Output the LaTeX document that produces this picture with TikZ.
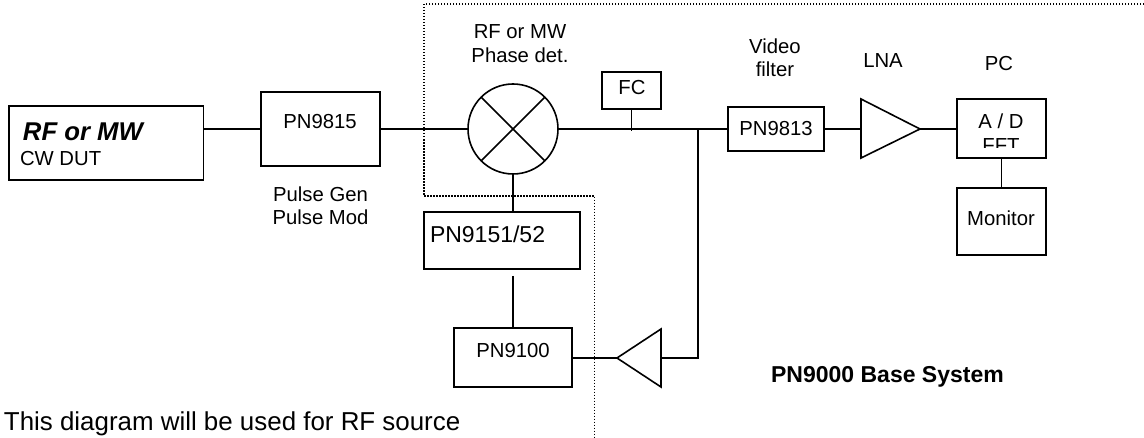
\documentclass[tikz,border=0pt]{standalone}
\usepackage{fontspec}
\setmainfont{Liberation Sans}
\usetikzlibrary{calc}
\tikzset{
  x=1pt,y=-1pt,
  wire/.style={line width=1.6pt,line cap=butt},
  blockbox/.style={draw=black,line width=1.6pt,rectangle,inner sep=0pt,outer sep=0pt},
  dotline/.style={line width=1.4pt,dash pattern=on 1.5pt off 1.5pt,black},
  lbl/.style={anchor=base,inner sep=0pt,outer sep=0pt,font=\fontsize{20.3}{24}\selectfont},
  lblbig/.style={lbl,font=\fontsize{23}{27}\selectfont},
}
\begin{document}
\begin{tikzpicture}
\useasboundingbox (0,0) rectangle (1144,438);
\fill[white] (0,0) rectangle (1144,438);
% dotted enclosure
\draw[dotline] (1144,4) -- (424,4) -- (424,196) -- (594.5,196) -- (594.5,438);
% blocks
\node[blockbox,minimum width=194.5pt,minimum height=74pt] (dut) at (106.25,143) {};
\node[blockbox,minimum width=119pt,minimum height=74pt] (p9815) at (320.5,129) {};
\node[draw=black,line width=1.6pt,circle,minimum size=90pt,inner sep=0pt,outer sep=0pt] (mixer) at (513,129) {};
\node[blockbox,minimum width=59pt,minimum height=37pt] (fc) at (631.5,90.5) {};
\node[blockbox,minimum width=96pt,minimum height=44pt] (p9813) at (776,129) {};
\node[blockbox,minimum width=89pt,minimum height=59pt] (ad) at (1001.5,128.5) {};
\node[blockbox,minimum width=89pt,minimum height=67pt] (monitor) at (1001.5,221.5) {};
\node[blockbox,minimum width=156pt,minimum height=57pt] (p9151) at (502,240.5) {};
\node[blockbox,minimum width=118pt,minimum height=59pt] (p9100) at (513,357.5) {};
% triangles
\coordinate (lnaIn) at (861,129);
\coordinate (lnaOut) at (920,129);
\draw[wire,line join=miter] (861,99) -- (lnaOut) -- (861,158) -- cycle;
\coordinate (fbIn) at (661,358);
\coordinate (fbOut) at (617,358);
\draw[wire,line join=miter] (661,329) -- (fbOut) -- (661,387) -- cycle;
% mixer cross
\draw[wire] (mixer.45) -- (mixer.225);
\draw[wire] (mixer.135) -- (mixer.315);
% connectors
\coordinate (fcTap) at (631.5,131.5);
\coordinate (junction) at (698,129);
\coordinate (fbCorner) at (698,358);
\coordinate (p9151Gap) at (513,276);
\draw[wire] (dut.east |- mixer.west) -- (p9815.west);
\draw[wire] (p9815.east) -- (mixer.west);
\draw[wire] (mixer.east) -- (p9813.west);
\draw[wire] (fc.south) -- (fcTap);
\draw[wire] (p9813.east) -- (lnaIn);
\draw[wire] (lnaOut) -- (ad.west |- lnaOut);
\draw[wire] (ad.south) -- (monitor.north);
\draw[wire] (mixer.south) -- (mixer.south |- p9151.north);
\draw[wire] (p9151Gap) -- (p9100.north);
\draw[wire] (junction) -- (fbCorner) -- (fbIn);
\draw[wire] (fbOut) -- (p9100.east |- fbOut);
% texts
\node[lbl,anchor=base west,font=\fontsize{25.7}{30}\selectfont\bfseries\itshape] (tRF) at (23,141) {RF or MW};
\node[lbl,anchor=base west] (tCW) at (20,166) {CW DUT};
\node[lbl] (t9815) at (320,129) {PN9815};
\node[lbl] (tGen) at (320.5,202) {Pulse Gen};
\node[lbl] (tMod) at (320.5,225) {Pulse Mod};
\node[lbl] (tDet1) at (520,39) {RF or MW};
\node[lbl] (tDet2) at (520,63) {Phase det.};
\node[lbl] (tFC) at (632,95) {FC};
\node[lbl] (tV1) at (775,54) {Video};
\node[lbl] (tV2) at (775,77) {filter};
\node[lbl] (t9813) at (776,136) {PN9813};
\node[lbl] (tLNA) at (883,68) {LNA};
\node[lbl] (tPC) at (999,71) {PC};
\node[lbl] (tAD) at (1001,129) {A / D};
\begin{scope}
\clip (958,135) rectangle (1045,148);
\node[lbl] (tFFT) at (1001,153) {FFT};
\end{scope}
\node[lbl] (tMon) at (1001,226) {Monitor};
\node[lblbig,anchor=base west] (t9151) at (430,243) {PN9151/52};
\node[lbl] (t9100) at (513,358) {PN9100};
\node[lbl,font=\fontsize{23}{27}\selectfont\bfseries] (tBase) at (887.5,383) {PN9000 Base System};
\node[lbl,anchor=base west,font=\fontsize{25.9}{30}\selectfont] (tNote) at (4,431) {This diagram will be used for RF source};
\end{tikzpicture}
\end{document}
